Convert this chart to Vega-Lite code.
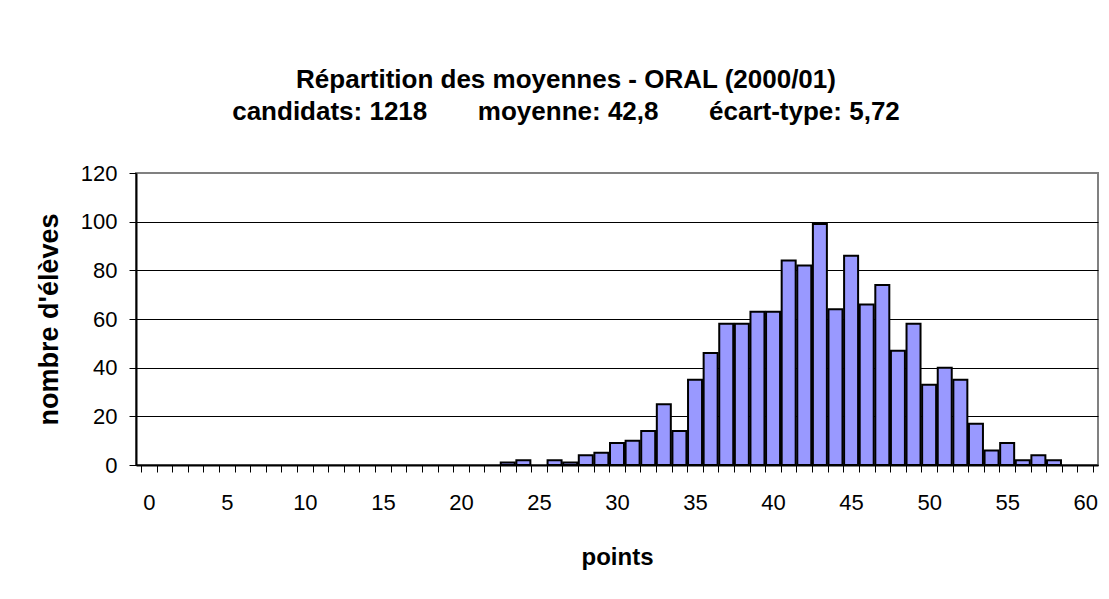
{
  "$schema": "https://vega.github.io/schema/vega-lite/v6.json",
  "autosize": "none",
  "width": 962,
  "height": 292,
  "padding": {"left": 136, "top": 173, "right": 11, "bottom": 134},
  "background": "white",
  "config": {
    "font": "Liberation Sans",
    "view": {"stroke": "#808080", "strokeWidth": 2}
  },
  "title": {
    "text": "Répartition des moyennes - ORAL (2000/01)",
    "subtitle": "candidats: 1218\u00a0\u00a0\u00a0\u00a0\u00a0\u00a0 moyenne: 42,8\u00a0\u00a0\u00a0\u00a0\u00a0\u00a0 écart-type: 5,72",
    "anchor": "middle",
    "frame": "group",
    "dx": -51,
    "offset": 37,
    "font": "Liberation Sans",
    "fontSize": 26,
    "fontWeight": "bold",
    "color": "black",
    "subtitleFont": "Liberation Sans",
    "subtitleFontSize": 26,
    "subtitleFontWeight": "bold",
    "subtitleColor": "black",
    "subtitlePadding": 6
  },
  "data": {
    "values": [
      {"points": 23, "eleves": 1},
      {"points": 24, "eleves": 2},
      {"points": 26, "eleves": 2},
      {"points": 27, "eleves": 1},
      {"points": 28, "eleves": 4},
      {"points": 29, "eleves": 5},
      {"points": 30, "eleves": 9},
      {"points": 31, "eleves": 10},
      {"points": 32, "eleves": 14},
      {"points": 33, "eleves": 25},
      {"points": 34, "eleves": 14},
      {"points": 35, "eleves": 35},
      {"points": 36, "eleves": 46},
      {"points": 37, "eleves": 58},
      {"points": 38, "eleves": 58},
      {"points": 39, "eleves": 63},
      {"points": 40, "eleves": 63},
      {"points": 41, "eleves": 84},
      {"points": 42, "eleves": 82},
      {"points": 43, "eleves": 99},
      {"points": 44, "eleves": 64},
      {"points": 45, "eleves": 86},
      {"points": 46, "eleves": 66},
      {"points": 47, "eleves": 74},
      {"points": 48, "eleves": 47},
      {"points": 49, "eleves": 58},
      {"points": 50, "eleves": 33},
      {"points": 51, "eleves": 40},
      {"points": 52, "eleves": 35},
      {"points": 53, "eleves": 17},
      {"points": 54, "eleves": 6},
      {"points": 55, "eleves": 9},
      {"points": 56, "eleves": 2},
      {"points": 57, "eleves": 4},
      {"points": 58, "eleves": 2}
    ]
  },
  "mark": {"type": "bar", "width": 14, "fill": "#9999FF", "stroke": "black", "strokeWidth": 2},
  "encoding": {
    "x": {
      "field": "points",
      "type": "quantitative",
      "scale": {"domain": [-0.5, 60.5], "nice": false, "zero": false},
      "axis": {
        "title": "points",
        "titleFont": "Liberation Sans",
        "titleFontSize": 24,
        "titleFontWeight": "bold",
        "titleColor": "black",
        "titleX": 481,
        "titleY": 92,
        "titleBaseline": "middle",
        "titleAlign": "center",
        "values": [-0.5, 0, 0.5, 1.5, 2.5, 3.5, 4.5, 5, 5.5, 6.5, 7.5, 8.5, 9.5, 10, 10.5, 11.5, 12.5, 13.5, 14.5, 15, 15.5, 16.5, 17.5, 18.5, 19.5, 20, 20.5, 21.5, 22.5, 23.5, 24.5, 25, 25.5, 26.5, 27.5, 28.5, 29.5, 30, 30.5, 31.5, 32.5, 33.5, 34.5, 35, 35.5, 36.5, 37.5, 38.5, 39.5, 40, 40.5, 41.5, 42.5, 43.5, 44.5, 45, 45.5, 46.5, 47.5, 48.5, 49.5, 50, 50.5, 51.5, 52.5, 53.5, 54.5, 55, 55.5, 56.5, 57.5, 58.5, 59.5, 60, 60.5],
        "labelExpr": "datum.value % 5 == 0 ? datum.label : ''",
        "labelOverlap": false,
        "labelBound": false,
        "labelFlush": false,
        "labelFont": "Liberation Sans",
        "labelFontSize": 22,
        "labelColor": "black",
        "labelPadding": 20,
        "tickColor": "black",
        "tickSize": 7,
        "tickOpacity": {"condition": {"test": "datum.value % 5 == 0", "value": 0}, "value": 1},
        "domainColor": "black",
        "domainWidth": 2,
        "grid": false
      }
    },
    "y": {
      "field": "eleves",
      "type": "quantitative",
      "scale": {"domain": [0, 120], "nice": false},
      "axis": {
        "title": "nombre d'élèves",
        "titleFont": "Liberation Sans",
        "titleFontSize": 27,
        "titleFontWeight": "bold",
        "titleColor": "black",
        "titleAngle": -90,
        "titleX": -87,
        "titleY": 146,
        "titleBaseline": "middle",
        "titleAlign": "center",
        "values": [0, 20, 40, 60, 80, 100, 120],
        "labelFont": "Liberation Sans",
        "labelFontSize": 22,
        "labelColor": "black",
        "labelPadding": 12,
        "tickColor": "black",
        "tickSize": 7,
        "domainColor": "black",
        "domainWidth": 2,
        "grid": true,
        "gridColor": {"condition": {"test": "datum.value == 120", "value": "#808080"}, "value": "black"},
        "gridOpacity": 1,
        "gridWidth": 1
      }
    }
  }
}
